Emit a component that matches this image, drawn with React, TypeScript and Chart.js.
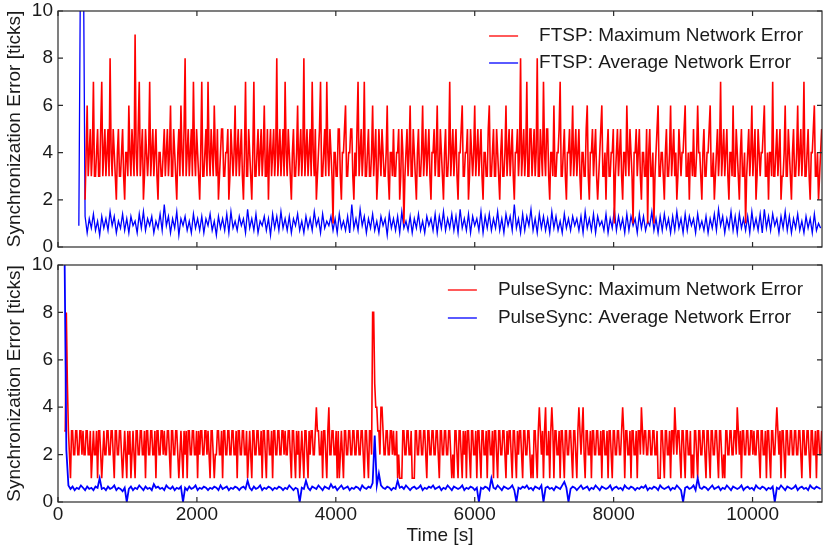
import React, { useEffect, useRef } from "react";
import { Chart, registerables } from "chart.js";

Chart.register(...registerables);

// ---------- data ----------
const X_MAX = 11000;
const X_TICKS = [0, 2000, 4000, 6000, 8000, 10000];
const Y_TICKS = [0, 2, 4, 6, 8, 10];
const MAX_STEP = 15; // seconds between samples of the maximum-error series
const AVG_STEP = 30; // seconds between samples of the average-error series
const FTSP_START = 300; // time of first FTSP sample [s]
const PULSE_START = 90; // time of first PulseSync sample [s]

const ftspLabels = ["FTSP: Maximum Network Error", "FTSP: Average Network Error"];
const pulseLabels = ["PulseSync: Maximum Network Error", "PulseSync: Average Network Error"];

// FTSP maximum network error [ticks]
const ftspMax = [
  null, null, null, null, null, null, 2, 4, 6, 3, 4, 5, 3, 4, 7, 3, 3, 4, 5, 3, 3, 5, 7, 3, 4, 5, 3, 4, 5, 3, 8, 4, 3, 5, 4, 3, 2, 4, 5, 3,
  3, 4, 5, 3, 2, 4, 4, 3, 6, 4, 3, 5, 4, 3, 9, 4, 3, 5, 7, 3, 4, 5, 2, 3, 5, 4, 3, 4, 7, 3, 4, 5, 3, 4, 5, 3, 2, 4, 4, 3,
  3, 4, 5, 3, 4, 5, 3, 4, 6, 3, 3, 5, 4, 3, 2, 4, 5, 3, 6, 4, 3, 5, 8, 3, 4, 5, 3, 4, 5, 3, 7, 4, 3, 5, 4, 3, 2, 4, 7, 3,
  3, 4, 5, 3, 7, 4, 3, 5, 4, 3, 6, 4, 3, 5, 2, 3, 4, 5, 5, 3, 3, 4, 4, 5, 2, 3, 5, 4, 3, 4, 6, 3, 4, 5, 3, 4, 5, 3, 2, 4,
  7, 3, 3, 5, 4, 3, 2, 4, 7, 3, 3, 4, 5, 3, 4, 5, 3, 4, 6, 3, 3, 5, 2, 4, 5, 3, 4, 5, 3, 4, 8, 3, 4, 5, 3, 4, 5, 3, 7, 4,
  3, 5, 4, 3, 2, 4, 5, 3, 3, 4, 6, 3, 4, 5, 3, 4, 8, 3, 4, 5, 3, 4, 5, 3, 7, 4, 3, 5, 2, 3, 4, 5, 7, 3, 3, 4, 5, 3, 7, 4,
  3, 5, 4, 3, 1, 4, 4, 3, 3, 5, 5, 3, 2, 4, 4, 5, 6, 3, 3, 4, 4, 5, 5, 3, 2, 4, 3, 5, 7, 3, 4, 5, 3, 4, 7, 3, 3, 4, 5, 3,
  3, 4, 6, 3, 4, 5, 2, 3, 5, 4, 3, 5, 4, 3, 3, 4, 6, 3, 2, 4, 4, 3, 5, 3, 3, 4, 4, 5, 2, 3, 5, 4, 1, 3, 4, 5, 3, 4, 6, 3,
  3, 5, 4, 3, 2, 4, 5, 3, 3, 4, 6, 3, 4, 5, 3, 4, 5, 3, 2, 4, 4, 5, 3, 4, 6, 3, 3, 5, 4, 3, 2, 4, 5, 3, 3, 4, 7, 3, 4, 5,
  3, 4, 5, 3, 2, 4, 4, 5, 6, 3, 3, 4, 4, 5, 2, 3, 5, 4, 3, 4, 6, 3, 4, 5, 3, 4, 5, 3, 2, 4, 4, 3, 3, 5, 6, 3, 3, 4, 5, 3,
  3, 5, 4, 3, 2, 4, 5, 3, 3, 4, 6, 3, 4, 5, 3, 4, 5, 3, 2, 4, 4, 5, 3, 4, 8, 3, 4, 5, 3, 4, 7, 3, 3, 5, 5, 3, 4, 5, 3, 4,
  8, 3, 3, 5, 4, 3, 7, 4, 3, 5, 5, 3, 2, 4, 4, 3, 6, 3, 3, 4, 4, 5, 7, 3, 3, 4, 5, 3, 2, 4, 4, 5, 3, 4, 6, 3, 4, 5, 3, 4,
  5, 3, 2, 4, 4, 3, 3, 5, 6, 3, 2, 4, 4, 5, 3, 4, 5, 3, 2, 3, 4, 5, 6, 3, 3, 4, 2, 4, 5, 3, 3, 4, 4, 5, 1, 3, 4, 5, 3, 4,
  5, 3, 2, 4, 4, 3, 6, 4, 3, 5, 4, 3, 1, 4, 4, 5, 3, 4, 5, 3, 2, 4, 4, 3, 3, 5, 1, 4, 5, 3, 3, 4, 1, 3, 4, 5, 6, 3, 3, 4,
  4, 3, 2, 4, 5, 3, 3, 4, 6, 3, 4, 5, 3, 4, 2, 3, 5, 4, 3, 4, 4, 5, 6, 3, 3, 4, 2, 4, 4, 3, 5, 3, 3, 4, 6, 4, 4, 3, 2, 4,
  5, 3, 3, 4, 4, 5, 6, 3, 3, 4, 2, 3, 4, 5, 3, 4, 7, 3, 4, 5, 3, 4, 5, 3, 2, 4, 4, 3, 6, 3, 3, 5, 4, 3, 2, 4, 5, 3, 3, 4,
  1, 3, 4, 5, 3, 4, 6, 3, 4, 5, 2, 3, 5, 4, 3, 4, 4, 5, 6, 3, 3, 4, 2, 4, 4, 3, 7, 3, 3, 4, 5, 3, 4, 5, 2, 3, 3, 4, 6, 3,
  3, 5, 4, 3, 2, 4, 5, 3, 3, 4, 6, 3, 4, 5, 3, 4, 7, 3, 3, 4, 5, 3, 2, 4, 4, 5, 6, 3, 3, 4, 2, 3, 4, 5,
];

// FTSP average network error [ticks]
const ftspAvg = [
  0.9, 15, 15, 1.3, 0.6, 1.2, 0.8, 1.4, 0.7, 1.1, 0.5, 1.3, 0.8, 1.2, 0.7, 1.5, 0.9, 1.3, 0.6, 1.1,
  0.8, 1.4, 0.7, 1.2, 0.6, 1.3, 0.9, 1.1, 0.6, 1.4, 0.8, 1.5, 0.7, 1.2, 0.9, 1.3, 0.6, 1.1, 0.8, 1.4,
  0.7, 1.8, 0.9, 1.3, 0.6, 1.2, 0.8, 1.5, 0.5, 1.2, 0.9, 1.3, 0.7, 1.1, 0.6, 1.4, 0.8, 1.2, 0.7, 1.3,
  0.6, 1.2, 0.9, 1.4, 0.7, 1.1, 0.5, 1.3, 0.8, 1.2, 0.7, 1.4, 0.6, 1.5, 0.8, 1.1, 0.7, 1.3, 0.9, 1.2,
  0.6, 1.6, 0.8, 1.2, 0.7, 1.4, 0.6, 1.1, 0.9, 1.3, 0.7, 1.2, 0.5, 1.4, 0.8, 1.3, 0.7, 1.5, 0.8, 1.2,
  0.7, 1.3, 0.6, 1.2, 0.9, 1.4, 0.7, 1.1, 0.6, 1.3, 0.8, 1.2, 0.7, 1.5, 0.9, 1.2, 0.6, 1.4, 0.8, 1.1,
  0.9, 1.3, 0.7, 1.2, 0.6, 1.4, 0.8, 1.1, 0.7, 1.3, 0.6, 1.8, 0.8, 1.2, 0.7, 1.6, 0.9, 1.3, 0.6, 1.2,
  0.8, 1.4, 0.7, 1.1, 0.6, 1.3, 0.9, 1.2, 0.5, 1.4, 0.8, 1.2, 0.7, 1.3, 0.6, 1.5, 0.8, 1.1, 0.7, 1.3,
  0.6, 1.2, 0.8, 1.4, 0.7, 1.1, 0.6, 1.3, 0.9, 1.2, 0.7, 1.4, 0.6, 1.3, 0.8, 1.5, 0.7, 1.2, 0.8, 1.4,
  0.7, 1.3, 0.6, 1.6, 0.8, 1.2, 0.7, 1.4, 0.6, 1.3, 0.9, 1.2, 0.7, 1.5, 0.6, 1.3, 0.8, 1.4, 0.7, 1.2,
  0.8, 1.5, 0.7, 1.2, 0.6, 1.4, 0.9, 1.3, 0.7, 1.8, 0.8, 1.2, 0.6, 1.4, 0.7, 1.3, 0.9, 1.6, 0.7, 1.2,
  0.6, 1.4, 0.8, 1.3, 0.7, 1.2, 0.6, 1.5, 0.8, 1.3, 0.7, 1.1, 0.6, 1.4, 0.8, 1.2, 0.7, 1.3, 0.9, 1.2,
  0.7, 1.3, 0.6, 1.5, 0.8, 1.2, 0.7, 1.4, 0.6, 1.3, 0.9, 1.1, 0.7, 1.4, 0.6, 1.2, 0.8, 1.6, 0.7, 1.3,
  0.8, 1.2, 0.6, 1.4, 0.7, 1.3, 0.9, 1.2, 0.6, 1.4, 0.8, 1.3, 0.7, 1.1, 0.9, 1.5, 0.7, 1.2, 0.6, 1.3,
  0.7, 1.4, 0.8, 1.2, 0.6, 1.3, 0.7, 1.5, 0.8, 1.2, 0.6, 1.4, 0.7, 1.3, 0.9, 1.2, 0.6, 1.4, 0.8, 1.1,
  0.7, 1.3, 0.6, 1.2, 0.8, 1.4, 0.7, 1.6, 0.9, 1.3, 0.6, 1.2, 0.8, 1.5, 0.7, 1.3, 0.6, 1.4, 0.8, 1.2,
  0.7, 1.3, 0.6, 1.5, 0.8, 1.2, 0.7, 1.4, 0.6, 1.6, 0.8, 1.3, 0.7, 1.4, 0.9, 1.2, 0.6, 1.3, 0.8, 1.5,
  0.7, 1.3, 0.6, 1.2, 0.8, 1.4, 0.7, 1.1, 0.6, 1.3, 0.8, 1.2, 0.6, 1.4, 0.7, 1.0, 0.8,
];

// PulseSync maximum network error [ticks]
const pulseMax = [
  3, 3, 8, 5, 3, 2, 1, 3, 3, 2, 2, 3, 3, 2, 2, 3, 3, 2, 3, 2, 2, 3, 3, 2, 2, 3, 1, 2, 3, 2, 2, 3, 1, 3, 3, 2, 1, 2, 3, 2,
  2, 3, 3, 2, 2, 3, 3, 2, 1, 3, 3, 2, 2, 3, 3, 2, 1, 2, 3, 2, 1, 3, 2, 3, 1, 2, 3, 2, 1, 3, 3, 2, 2, 3, 3, 2, 2, 3, 1, 3,
  3, 2, 2, 3, 3, 2, 2, 3, 1, 3, 3, 2, 2, 3, 3, 2, 3, 2, 2, 3, 3, 2, 1, 3, 3, 2, 2, 3, 3, 2, 1, 2, 3, 2, 1, 3, 2, 3, 1, 3,
  3, 2, 2, 3, 3, 2, 2, 3, 1, 3, 2, 3, 3, 2, 2, 3, 3, 2, 3, 2, 1, 3, 3, 2, 1, 2, 2, 3, 3, 2, 2, 3, 1, 3, 3, 2, 2, 3, 3, 2,
  2, 3, 3, 2, 2, 3, 1, 3, 3, 2, 2, 3, 3, 2, 2, 3, 1, 2, 3, 2, 1, 3, 3, 2, 2, 3, 3, 2, 2, 3, 1, 3, 3, 2, 1, 3, 3, 2, 2, 3,
  1, 3, 3, 2, 2, 3, 3, 2, 2, 3, 3, 2, 3, 2, 2, 3, 3, 2, 1, 3, 3, 2, 1, 3, 2, 3, 1, 2, 3, 2, 1, 3, 3, 2, 1, 3, 2, 3, 3, 2,
  2, 3, 4, 3, 3, 2, 2, 3, 1, 3, 3, 2, 1, 3, 4, 2, 2, 3, 3, 2, 2, 3, 1, 3, 1, 2, 3, 2, 1, 3, 3, 2, 2, 3, 3, 2, 2, 3, 3, 2,
  2, 3, 3, 2, 2, 3, 3, 2, 1, 3, 3, 2, 1, 3, 3, 2, 8, 8, 5, 4, 4, 3, 3, 2, 4, 4, 3, 2, 2, 3, 3, 2, 2, 3, 3, 2, 3, 2, 2, 3,
  1, 2, 1, 1, 1, 3, 3, 2, 2, 3, 3, 2, 2, 3, 1, 1, 1, 3, 3, 2, 2, 3, 3, 2, 2, 3, 3, 2, 1, 3, 3, 2, 2, 3, 3, 2, 2, 3, 3, 2,
  1, 3, 3, 2, 2, 3, 3, 2, 2, 3, 3, 2, 1, 2, 1, 3, 3, 2, 1, 3, 3, 2, 1, 3, 2, 3, 1, 3, 3, 2, 1, 3, 3, 2, 2, 3, 1, 3, 3, 2,
  1, 3, 3, 2, 2, 3, 1, 3, 3, 2, 2, 3, 1, 3, 3, 2, 1, 3, 3, 2, 2, 3, 3, 2, 1, 3, 2, 3, 3, 2, 1, 3, 3, 2, 1, 3, 2, 3, 3, 2,
  1, 3, 3, 2, 2, 3, 3, 2, 1, 2, 1, 3, 3, 2, 1, 3, 4, 3, 2, 3, 1, 3, 4, 2, 2, 3, 1, 3, 4, 3, 1, 3, 3, 2, 2, 3, 1, 3, 3, 2,
  1, 3, 3, 2, 2, 3, 3, 2, 1, 3, 3, 2, 1, 3, 4, 3, 2, 3, 4, 2, 1, 3, 3, 2, 2, 3, 1, 3, 3, 2, 2, 3, 3, 2, 2, 3, 1, 3, 3, 2,
  2, 3, 1, 3, 3, 2, 1, 3, 3, 2, 2, 3, 3, 2, 2, 3, 4, 3, 1, 3, 3, 2, 2, 3, 1, 3, 3, 2, 2, 3, 1, 3, 3, 2, 4, 3, 2, 3, 3, 2,
  2, 3, 3, 2, 2, 3, 3, 2, 2, 3, 1, 1, 1, 3, 3, 2, 1, 3, 3, 2, 2, 3, 1, 3, 3, 2, 4, 3, 2, 3, 3, 2, 1, 3, 3, 2, 1, 3, 3, 2,
  2, 3, 1, 2, 1, 3, 3, 2, 1, 3, 3, 2, 2, 3, 3, 2, 1, 3, 3, 2, 1, 3, 3, 2, 2, 3, 3, 2, 1, 3, 3, 2, 1, 2, 1, 3, 3, 2, 2, 3,
  3, 2, 2, 3, 3, 2, 4, 3, 2, 3, 1, 3, 3, 2, 2, 3, 3, 2, 2, 3, 3, 2, 3, 2, 2, 3, 3, 2, 1, 3, 3, 2, 2, 3, 1, 3, 3, 2, 1, 3,
  3, 2, 2, 3, 4, 3, 2, 3, 1, 3, 3, 2, 1, 3, 3, 2, 2, 3, 3, 2, 2, 3, 3, 2, 2, 3, 3, 2, 1, 3, 3, 2, 2, 3, 3, 2, 1, 3, 3, 2,
  2, 3, 1, 3, 3, 2, 2, 3,
];

// PulseSync average network error [ticks]
const pulseAvg = [
  12, 2.2, 0.7, 0.55, 0.65, 0.5, 0.6, 0.55, 0.7, 0.6, 0.5, 0.65, 0.55, 0.6, 0.5, 0.65, 0.6, 1.0, 0.55, 0.6,
  0.5, 0.65, 0.55, 0.6, 0.7, 0.5, 0.6, 0.55, 0.45, 0.6, 0, 0.55, 0.65, 0.5, 0.6, 0.55, 0.7, 0.6, 0.5, 0.65,
  0.55, 0.6, 0.5, 0.75, 0.6, 0.65, 0.55, 0.6, 0.5, 0.7, 0.6, 0.55, 0.65, 0.5, 0.6, 0.55, 0.65, 0, 0.6, 0.5,
  0.65, 0.55, 0.6, 0.7, 0.5, 0.6, 0.55, 0.65, 0.6, 0.5, 0.6, 0.55, 0.65, 0.6, 0.5, 0.7, 0.55, 0.6, 0.65, 0.5,
  0.6, 0.55, 0.65, 0.6, 0.5, 0.6, 0.65, 0.55, 0.9, 0.6, 0.5, 0.65, 0.55, 0.6, 0.7, 0.5, 0.6, 0.55, 0.65, 0.6,
  0.5, 0.6, 0.55, 0.65, 0.6, 0.5, 0.6, 0.55, 0.7, 0.6, 0.5, 0.6, 0.55, 0, 0.6, 0.55, 0.9, 0.6, 0.5, 0.65,
  0.6, 0.55, 0.7, 0.6, 0.5, 0.65, 0.6, 0.55, 0.75, 0.6, 0.65, 0.5, 0.6, 0.7, 0.55, 0.6, 0.65, 0.5, 0.6, 0.55,
  0.65, 0.6, 0.5, 0.7, 0.6, 0.55, 0.65, 0.6, 0.8, 2.8, 0.7, 1.2, 0.7, 0.6, 0.55, 0.65, 0.6, 0.5, 0.6, 0.55,
  0.9, 0.6, 0.65, 0.55, 0.7, 0.6, 0.5, 0.6, 0.65, 0.55, 0.6, 0.7, 0.5, 0.6, 0.55, 0.65, 0.6, 0.7, 0.55, 0.6,
  0.65, 0.5, 0.6, 0.55, 0.7, 0.6, 0.5, 0.65, 0.6, 0.55, 0.6, 0.7, 0.5, 0.6, 0.55, 0.65, 0.6, 0.5, 0.6, 0,
  0.6, 0.55, 0.65, 0.6, 0.5, 1.0, 0.6, 0.55, 0.7, 0.6, 0.5, 0.65, 0.6, 0.55, 0.6, 0.7, 0.5, 0, 0.6, 0.55,
  0.65, 0.6, 0.7, 0.55, 0.6, 0.5, 0.65, 0.6, 0.55, 0.7, 0, 0.6, 0.65, 0.55, 0.6, 0.5, 0.65, 0.6, 0.55, 0.7,
  0.85, 0.6, 0, 0.55, 0.65, 0.6, 0.5, 0.6, 0.7, 0.55, 0.6, 0.65, 0.5, 0.6, 0.55, 0.7, 0.6, 0.5, 0.65, 0.6,
  0.55, 0.6, 0.7, 0.5, 0.6, 0.65, 0.55, 0.6, 0.5, 0.7, 0.6, 0.55, 0.65, 0.6, 0.5, 0.6, 0.55, 0.65, 0.6, 0.7,
  0.5, 0.6, 0.55, 0.65, 0.6, 0.5, 0.7, 0.6, 0.55, 0.6, 0.65, 0.5, 0.6, 0.55, 0.7, 0.6, 0.5, 0, 0.6, 0.65,
  0.55, 0.6, 0.7, 0.5, 1.0, 0.6, 0.55, 0.65, 0.6, 0.5, 0.6, 0.7, 0.55, 0.6, 0.65, 0.5, 0.6, 0.55, 0.7, 0.6,
  0.5, 0.65, 0.6, 0.55, 0.6, 0.7, 0.5, 0.6, 0.65, 0.55, 0.6, 0.5, 0.7, 0.6, 0.55, 0.65, 0.6, 0.5, 0.6, 0.55,
  0.65, 0, 0.6, 0.55, 0.7, 0.6, 0.5, 0.65, 0.6, 0.55, 0.6, 0.7, 0.5, 0.6, 0.65, 0.55, 0.6, 0.5, 0.7, 0.6,
  0.55, 0.65, 0.6, 0.55,
];

// ---------- styling ----------
const FONT_FAMILY = "'Liberation Sans', Arial, Helvetica, sans-serif";
const TEXT_COLOR = "#1a1a1a";
const FRAME_COLOR = "#2a2a2a";
const RED = "#ff0000";
const BLUE = "#0000ff";
const W = 825;
const TOP_H = 255;
const BOTTOM_H = 293;

const toPoints = (values: (number | null)[], start: number, step: number) =>
  values.map((v, i) => ({ x: start + i * step, y: v }));

const framePlugin = {
  id: "paperFrame",
  afterDatasetsDraw(chart: any) {
    const { ctx, chartArea: a, scales } = chart;
    const cfg = chart.options.plugins.paperFrame;
    ctx.save();
    ctx.strokeStyle = FRAME_COLOR;
    ctx.lineWidth = 1.2;
    ctx.strokeRect(a.left, a.top, a.right - a.left, a.bottom - a.top);
    const L = 5;
    ctx.beginPath();
    for (const v of X_TICKS) {
      const px = scales.x.getPixelForValue(v);
      ctx.moveTo(px, a.bottom);
      ctx.lineTo(px, a.bottom - L);
      ctx.moveTo(px, a.top);
      ctx.lineTo(px, a.top + L);
    }
    for (const v of Y_TICKS) {
      const py = scales.y.getPixelForValue(v);
      ctx.moveTo(a.left, py);
      ctx.lineTo(a.left + L, py);
      ctx.moveTo(a.right, py);
      ctx.lineTo(a.right - L, py);
    }
    ctx.stroke();

    // legend
    ctx.font = `19px ${FONT_FAMILY}`;
    const ds = chart.data.datasets;
    const maxW = Math.max(...ds.map((d: any) => ctx.measureText(d.label).width));
    const textX = a.right - cfg.rightGap - maxW;
    ds.forEach((d: any, i: number) => {
      const y = a.top + cfg.rows[i];
      ctx.strokeStyle = d.borderColor;
      ctx.lineWidth = 1.3;
      ctx.beginPath();
      ctx.moveTo(textX - 21 - 29, y);
      ctx.lineTo(textX - 21, y);
      ctx.stroke();
      ctx.fillStyle = TEXT_COLOR;
      ctx.textBaseline = "middle";
      ctx.textAlign = "left";
      ctx.fillText(d.label, textX, y);
    });
    ctx.restore();
  },
};

function makeChart(
  canvas: HTMLCanvasElement,
  datasets: any[],
  showX: boolean,
  padTop: number,
  xAxisH: number,
  legendRows: number[]
) {
  const font = { family: FONT_FAMILY, size: 19 };
  return new Chart(canvas, {
    type: "line",
    data: { datasets },
    plugins: [framePlugin],
    options: {
      animation: false,
      responsive: false,
      devicePixelRatio: 1,
      layout: { padding: { top: padTop, right: 3, left: 0, bottom: 0 } },
      elements: { point: { radius: 0 }, line: { borderWidth: 1.2, tension: 0 } },
      plugins: {
        legend: { display: false },
        tooltip: { enabled: false },
        paperFrame: { rows: legendRows, rightGap: 19 },
      } as any,
      scales: {
        x: {
          type: "linear",
          min: 0,
          max: X_MAX,
          grid: { display: false, drawTicks: false },
          border: { display: false },
          ticks: {
            display: showX,
            font,
            color: TEXT_COLOR,
            padding: 1,
            maxRotation: 0,
            autoSkip: false,
            callback: (v: any) => String(v),
          },
          title: { display: showX, text: "Time [s]", font, color: TEXT_COLOR, padding: { top: 0, bottom: 1 } },
          afterBuildTicks: (s: any) => {
            s.ticks = X_TICKS.map((v) => ({ value: v }));
          },
          afterFit: (s: any) => {
            s.height = xAxisH;
            s.paddingLeft = 0;
            s.paddingRight = 0;
          },
        },
        y: {
          min: 0,
          max: 10,
          grid: { display: false, drawTicks: false },
          border: { display: false },
          ticks: { font, color: TEXT_COLOR, padding: 5, callback: (v: any) => String(v) },
          title: {
            display: true,
            text: "Synchronization Error [ticks]",
            font,
            color: TEXT_COLOR,
            padding: { top: 3, bottom: 0 },
          },
          afterBuildTicks: (s: any) => {
            s.ticks = Y_TICKS.map((v) => ({ value: v }));
          },
          afterFit: (s: any) => {
            s.width = 58;
            s.paddingTop = 0;
            s.paddingBottom = 0;
          },
        },
      },
    } as any,
  });
}

export default function App() {
  const topRef = useRef<HTMLCanvasElement>(null);
  const bottomRef = useRef<HTMLCanvasElement>(null);

  useEffect(() => {
    const top = makeChart(
      topRef.current!,
      [
        { label: ftspLabels[0], data: toPoints(ftspMax, FTSP_START, MAX_STEP), borderColor: RED, order: 0, borderWidth: 1.6 },
        { label: ftspLabels[1], data: toPoints(ftspAvg, FTSP_START, AVG_STEP), borderColor: BLUE, order: 1, borderWidth: 1.3 },
      ],
      false,
      11,
      TOP_H - 247,
      [25, 52]
    );
    const bottom = makeChart(
      bottomRef.current!,
      [
        { label: pulseLabels[0], data: toPoints(pulseMax, PULSE_START, MAX_STEP), borderColor: RED, order: 1, borderWidth: 1.6 },
        { label: pulseLabels[1], data: toPoints(pulseAvg, PULSE_START, AVG_STEP), borderColor: BLUE, order: 0, borderWidth: 1.8 },
      ],
      true,
      10,
      BOTTOM_H - 247,
      [25, 53]
    );
    return () => {
      top.destroy();
      bottom.destroy();
    };
  }, []);

  return (
    <div style={{ position: "absolute", left: 0, top: 0, width: W, height: TOP_H + BOTTOM_H, background: "#fff" }}>
      <canvas ref={topRef} width={W} height={TOP_H} style={{ position: "absolute", left: 0, top: 0, width: W, height: TOP_H }} />
      <canvas
        ref={bottomRef}
        width={W}
        height={BOTTOM_H}
        style={{ position: "absolute", left: 0, top: TOP_H, width: W, height: BOTTOM_H }}
      />
    </div>
  );
}
